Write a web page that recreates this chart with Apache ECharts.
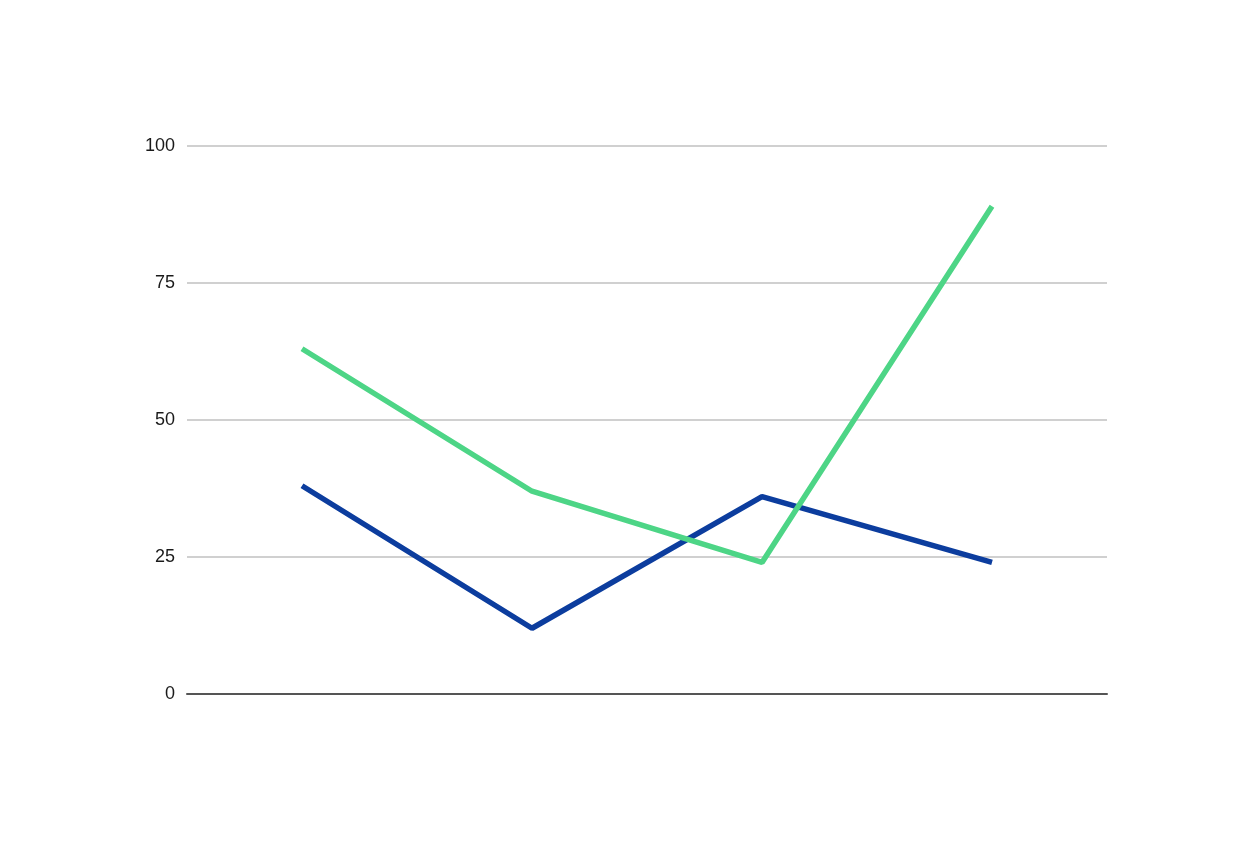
<!DOCTYPE html>
<html>
<head>
<meta charset="utf-8">
<script src="https://cdn.jsdelivr.net/npm/echarts@6/dist/echarts.min.js"></script>
<style>
  html, body { margin: 0; padding: 0; background: #ffffff; }
  #chart { width: 1248px; height: 848px; }
</style>
</head>
<body>
<div id="chart"></div>
<script>
// 数据
var categories = ['A', 'B', 'C', 'D'];
var blueValues = [38, 12, 36, 24];
var greenValues = [63, 37, 24, 89];
var yTicks = [0, 25, 50, 75, 100];

var chart = echarts.init(document.getElementById('chart'));

var option = {
    backgroundColor: '#ffffff',
    animation: false,
    grid: {
        left: 187,
        right: 141,
        top: 146,
        bottom: 154
    },
    xAxis: {
        type: 'category',
        data: categories,
        boundaryGap: true,
        axisLine: { show: true, lineStyle: { color: '#555555', width: 2 } },
        axisTick: { show: false },
        axisLabel: { show: false }
    },
    yAxis: {
        type: 'value',
        min: yTicks[0],
        max: yTicks[yTicks.length - 1],
        interval: 25,
        axisLine: { show: false },
        axisTick: { show: false },
        axisLabel: {
            color: '#1a1a1a',
            fontSize: 18,
            fontFamily: 'Liberation Sans',
            margin: 12
        },
        splitLine: { lineStyle: { color: '#d0d0d0', width: 2 } }
    },
    series: [
        {
            // 蓝线在下
            type: 'line',
            data: blueValues,
            symbol: 'none',
            lineStyle: { color: '#0c3d9e', width: 5.5 },
            z: 2
        },
        {
            // 绿线在上
            type: 'line',
            data: greenValues,
            symbol: 'none',
            lineStyle: { color: '#4dd586', width: 5.5 },
            z: 3
        }
    ]
};

chart.setOption(option);
</script>
</body>
</html>
